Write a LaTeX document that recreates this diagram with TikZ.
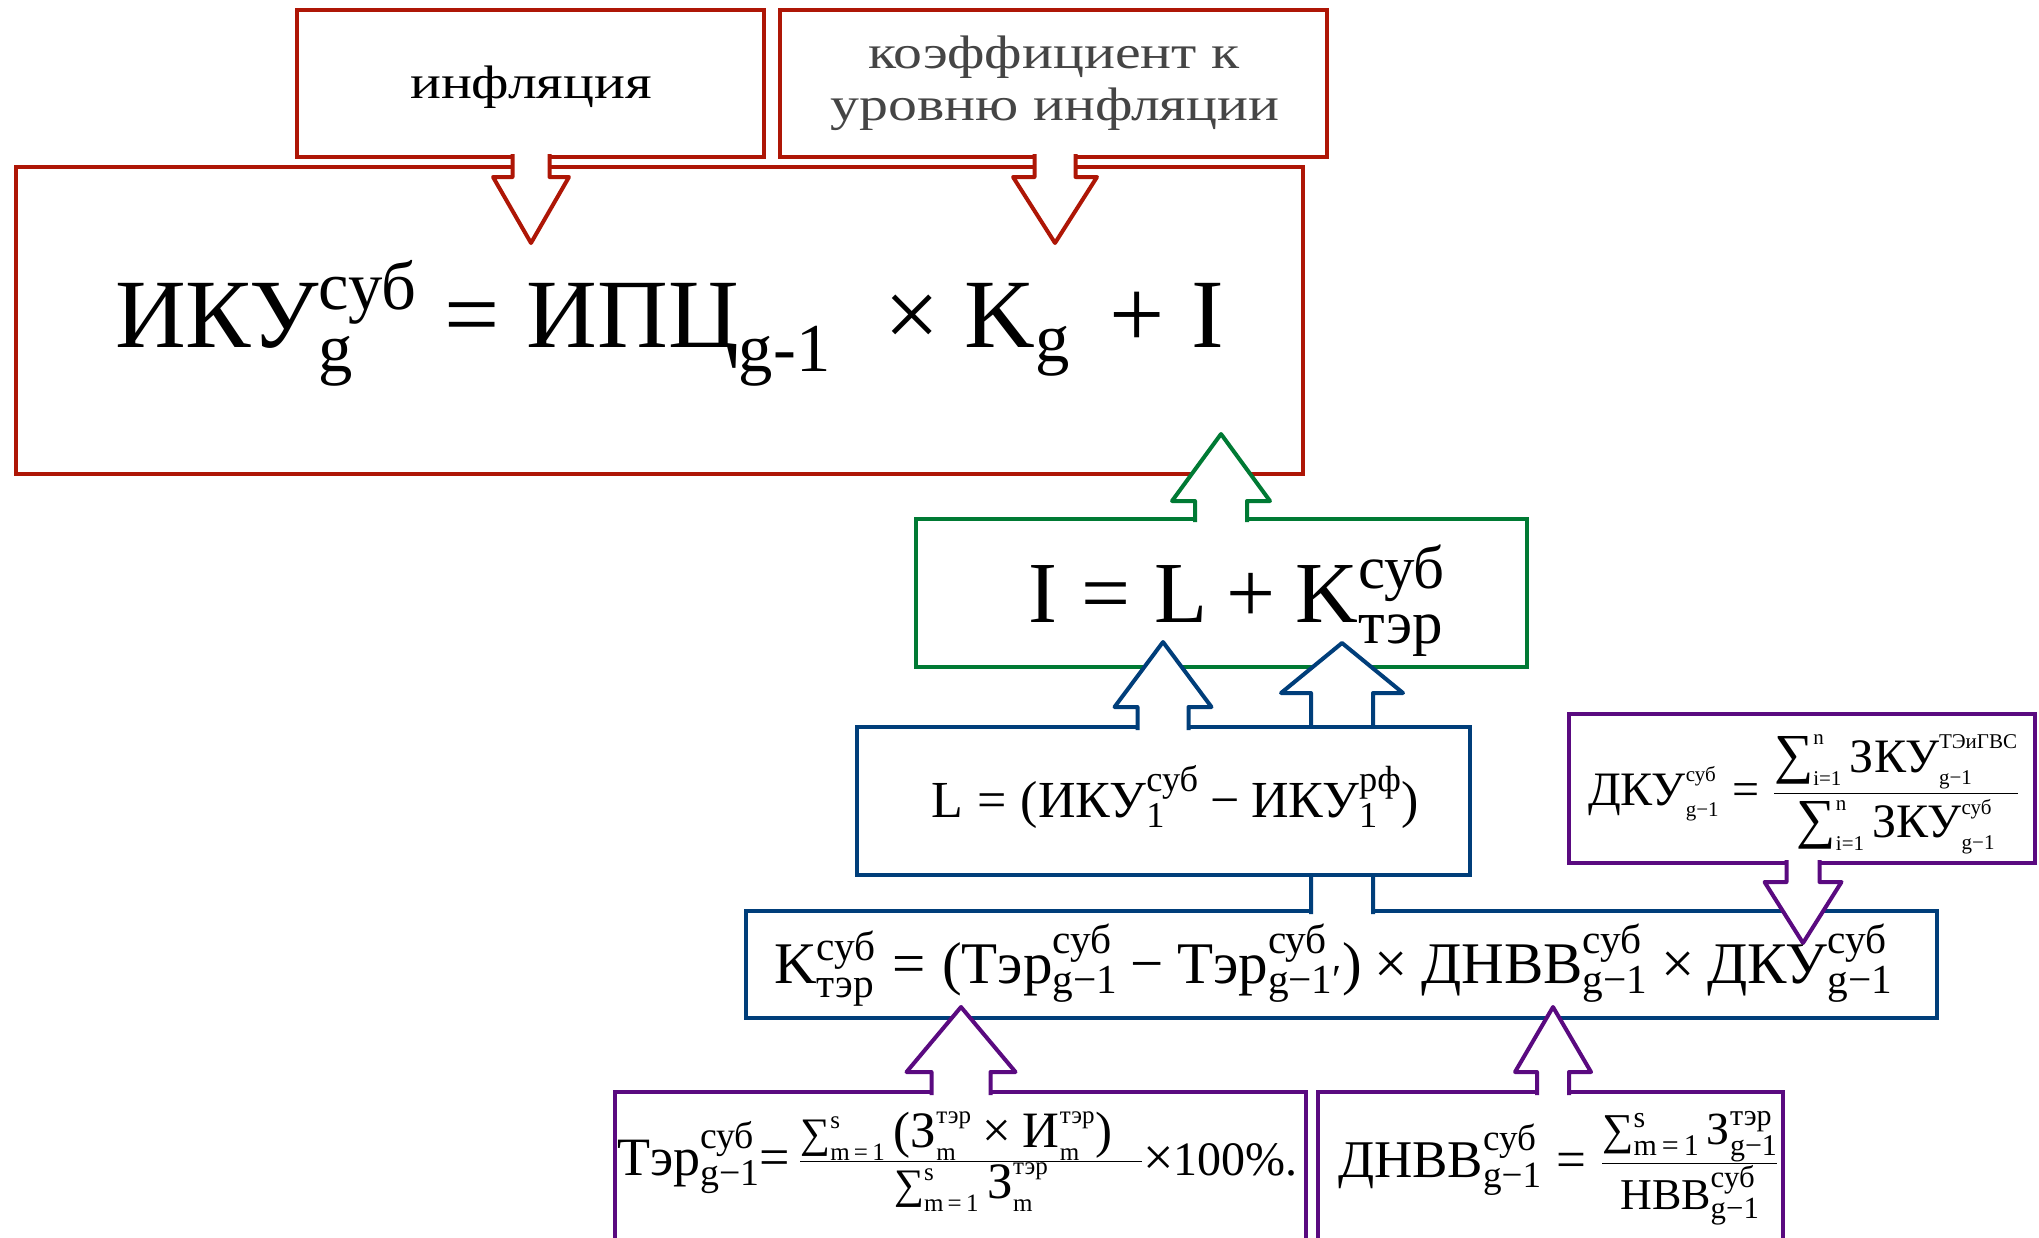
\documentclass[tikz,border=0pt]{standalone}
\usepackage{fix-cm}
\usepackage{amsmath}
\usepackage{fontspec}
\setmainfont{Liberation Serif}
\newfontfamily\palf[FakeStretch=1.23]{Liberation Serif}
\usetikzlibrary{calc}
\DeclareMathSizes{48}{48}{21}{16}
\DeclareMathSizes{51}{51}{25}{18}
\DeclareMathSizes{46}{46}{30}{22}
\definecolor{redc}{HTML}{AE1606}
\definecolor{greenc}{HTML}{007A34}
\definecolor{bluec}{HTML}{003E7A}
\definecolor{purplec}{HTML}{5A0A80}
\definecolor{grayc}{HTML}{454545}
\newcommand\T[1]{\text{#1}}
\newcommand\fs[1]{\fontsize{#1}{#1}\selectfont}
\newcommand\EQ{\mathrel{\text{=}}}
\newcommand\PL{\mathbin{\text{+}}}
\newcommand\TM{\mathbin{\text{×}}}
\newcommand\MN{\mathbin{\text{−}}}
\newcommand\LSum[1]{\mathop{\text{\fs{#1}∑}}\nolimits}
\newcommand\barrow[6]{%
  \draw[line width=4pt, line join=round, fill=white, draw=#1]
    let \p1=(#3), \p2=(#2) in
    ({\x1-#4pt},\y2) -- ({\x1-#4pt},{\y1+(#6pt)}) -- ({\x1-#5pt},{\y1+(#6pt)}) -- (\x1,\y1)
    -- ({\x1+#5pt},{\y1+(#6pt)}) -- ({\x1+#4pt},{\y1+(#6pt)}) -- ({\x1+#4pt},\y2);}
\begin{document}
\begin{tikzpicture}[x=1pt,y=-1pt,
  box/.style={draw, line width=4pt, fill=white, outer sep=0pt, inner sep=0pt, anchor=north west},
  formula/.style={anchor=base west, inner sep=0pt, outer sep=0pt, text=black},
  label/.style={anchor=base, inner sep=0pt, outer sep=0pt}]
\useasboundingbox[fill=white] (0,0) rectangle (2039,1237);
\clip (0,0) rectangle (2039,1237);
% red level
\node[box, draw=redc, minimum width=1287pt, minimum height=307pt] (main) at (16,167) {};
\node[box, draw=redc, minimum width=467pt, minimum height=147pt] (inf) at (297,10) {};
\node[box, draw=redc, minimum width=547pt, minimum height=147pt] (coef) at (780,10) {};
\coordinate (tA) at (531,243);
\coordinate (tB) at (1055,243);
\barrow{redc}{[yshift=3pt]inf.south}{tA}{18.5}{38}{66}
\barrow{redc}{[yshift=3pt]coef.south}{tB}{20.5}{42}{66}
% green level
\node[box, draw=greenc, minimum width=611pt, minimum height=148pt] (ibox) at (916,519) {};
\coordinate (tC) at (1221,434);
\barrow{greenc}{[yshift=-3pt]ibox.north}{tC}{26}{49}{-67}
% blue level
\node[box, draw=bluec, minimum width=1191pt, minimum height=107pt] (kbox) at (746,911) {};
\coordinate (tE) at (1342,643);
\barrow{bluec}{[yshift=-3pt]kbox.north}{tE}{31}{61}{-50}
\node[box, draw=bluec, minimum width=613pt, minimum height=148pt] (lbox) at (857,727) {};
\coordinate (tD) at (1163,642);
\barrow{bluec}{[yshift=-3pt]lbox.north}{tD}{25.5}{48.5}{-65}
% purple level
\node[box, draw=purplec, minimum width=466pt, minimum height=149pt] (dku) at (1569,714) {};
\coordinate (tF) at (1803,943);
\barrow{purplec}{[yshift=3pt]dku.south}{tF}{16.5}{38.5}{61}
\node[box, draw=purplec, minimum width=691pt, minimum height=250pt] (tbox) at (615,1092) {};
\node[box, draw=purplec, minimum width=465pt, minimum height=250pt] (dbox) at (1318,1092) {};
\coordinate (tG) at (961,1007);
\coordinate (tH) at (1553,1007);
\barrow{purplec}{[yshift=-3pt]tbox.north}{tG}{29.5}{54.5}{-65}
\barrow{purplec}{[yshift=-3pt]dbox.north}{tH}{16}{38}{-65}
% texts
\node[label, font=\palf\fs{47}] (tinf) at (531,98) {инфляция};
\node[label, text=grayc, font=\palf\fs{47}] (tcoef1) at (1054,68) {коэффициент к};
\node[label, text=grayc, font=\palf\fs{47}] (tcoef2) at (1055,120) {уровню инфляции};
\node[formula] (fmain) at (115,347) {\fs{98}%
  $\T{ИКУ}^{\T{суб}}_{\T{g}} \EQ \T{ИПЦ}_{\T{g-1}}\hspace{0.55em}\mathord{\T{×}}\hspace{0.25em}\T{K}_{\T{g}}\hspace{0.4em}\mathord{\T{+}}\hspace{0.27em}\T{I}$};
\node[formula] (fi) at (1028,622) {\fs{87}%
  $\T{I}\EQ\T{L}\PL\T{K}^{\T{суб}}_{\T{тэр}}$};
\node[formula] (fl) at (931,817) {\fs{52}%
  $\T{L}\EQ\T{(}\T{ИКУ}^{\T{суб}}_{\T{1}}\MN\T{ИКУ}^{\T{рф}}_{\T{1}}\T{)}$};
\node[formula] (fk) at (774,983) {\fs{59}%
  $\T{K}^{\T{суб}}_{\T{тэр}}\EQ\T{(}\T{Тэр}^{\T{суб}}_{\T{g−1}}\MN\T{Тэр}^{\T{суб}}_{\T{g−1′}}\T{)}\TM\T{ДНВВ}^{\T{суб}}_{\T{g−1}}\TM\T{ДКУ}^{\T{суб}}_{\T{g−1}}$};
\node[formula] (fd) at (1588,805) {\fs{48}%
  $\T{ДКУ}^{\T{суб}}_{\T{g−1}}\EQ\dfrac{\LSum{55}^{\T{n}}_{\T{i=1}}\T{ЗКУ}^{\T{ТЭиГВС}}_{\T{g−1}}}{\LSum{55}^{\T{n}}_{\T{i=1}}\T{ЗКУ}^{\T{суб}}_{\T{g−1}}}$};
\node[formula] (ft) at (617,1175) {\fs{54}%
  $\T{Тэр}^{\T{суб}}_{\T{g−1}}\mathord{\T{=}}\,\frac{\T{\fs{51}$\LSum{42}^{\T{s}}_{\T{m\,=\,1}}\T{(}\T{З}^{\T{тэр}}_{\T{m}}\TM\T{И}^{\T{тэр}}_{\T{m}}\T{)}$\hspace{30pt}}}{\T{\fs{51}$\LSum{42}^{\T{s}}_{\T{m\,=\,1}}\T{З}^{\T{тэр}}_{\T{m}}$}}\mathord{\T{×}}\T{\fs{48}100\%.}$};
\node[formula] (fn) at (1338,1177) {\fs{53}%
  $\T{ДНВВ}^{\T{суб}}_{\T{g−1}}\EQ\frac{\T{\fs{46}$\LSum{44}^{\T{s}}_{\T{m\,=\,1}}\T{З}^{\T{тэр}}_{\T{g−1}}$}}{\T{\fs{44}$\T{НВВ}^{\T{суб}}_{\T{g−1}}$}}$};
\end{tikzpicture}
\end{document}
